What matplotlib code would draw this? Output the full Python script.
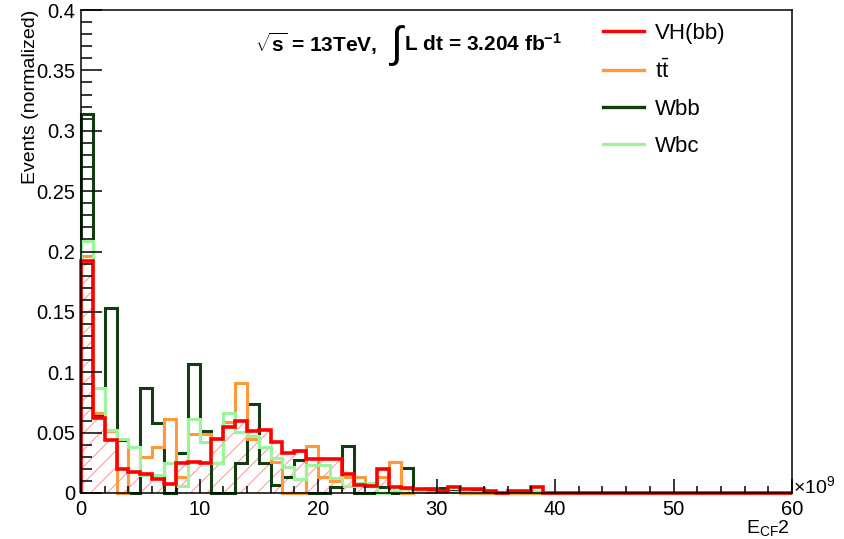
import numpy as np
import matplotlib
matplotlib.use("Agg")
import matplotlib.pyplot as plt
from matplotlib.lines import Line2D
from matplotlib.ticker import MultipleLocator, FuncFormatter

plt.rcParams['font.family'] = ['Liberation Sans', 'DejaVu Sans']
plt.rcParams['mathtext.fontset'] = 'custom'
plt.rcParams['mathtext.rm'] = 'Liberation Sans'
plt.rcParams['mathtext.it'] = 'Liberation Sans:italic'
plt.rcParams['mathtext.bf'] = 'Liberation Sans:bold'
plt.rcParams['hatch.linewidth'] = 0.8

# bin edges in units of 1e9, bins of width 1 from 0 to 60
edges = np.arange(0, 61, 1)

# normalized events per bin (bins 0..39, the rest empty)
vh = [0.192, 0.062, 0.044, 0.020, 0.017, 0.016, 0.012, 0.0074, 0.025, 0.026,
      0.025, 0.045, 0.055, 0.0595, 0.051, 0.052, 0.0425, 0.033, 0.035, 0.0285,
      0.028, 0.028, 0.0156, 0.0066, 0.006, 0.0198, 0.005, 0.004, 0.003, 0.0037,
      0.0013, 0.0046, 0.003, 0.0037, 0.002, 0.0, 0.0013, 0.0013, 0.0046, 0.0]
ttbar = [0.196, 0.066, 0.051, 0.0, 0.038, 0.030, 0.038, 0.061, 0.013, 0.049,
         0.049, 0.0245, 0.059, 0.0915, 0.045, 0.038, 0.026, 0.0, 0.0, 0.039,
         0.0135, 0.010, 0.0135, 0.0135, 0.006, 0.0135, 0.0256, 0.0, 0.002, 0.001,
         0.001, 0.001, 0.0, 0.0, 0.0, 0.0, 0.0, 0.0, 0.0, 0.0]
wbb = [0.314, 0.064, 0.153, 0.044, 0.0, 0.087, 0.058, 0.0, 0.033, 0.107,
       0.051, 0.0, 0.0, 0.025, 0.0733, 0.0245, 0.007, 0.0135, 0.027, 0.0,
       0.0, 0.005, 0.039, 0.0, 0.0, 0.005, 0.0, 0.021, 0.002, 0.002,
       0.004, 0.002, 0.0, 0.002, 0.0, 0.0, 0.0, 0.0, 0.0, 0.0]
wbc = [0.209, 0.087, 0.052, 0.045, 0.038, 0.015, 0.015, 0.025, 0.006, 0.061,
       0.042, 0.025, 0.066, 0.0506, 0.047, 0.038, 0.029, 0.0217, 0.012, 0.023,
       0.0235, 0.0125, 0.006, 0.008, 0.008, 0.0, 0.002, 0.003, 0.002, 0.004,
       0.002, 0.001, 0.001, 0.001, 0.001, 0.001, 0.001, 0.002, 0.002, 0.0]

labels = ['VH(bb)', r'$\mathrm{t\bar{t}}$', 'Wbb', 'Wbc']
colors = ['#ff0000', '#ff9a3c', '#123d12', '#9cf59c']


def full(vals):
    return np.array(vals + [0.0] * (len(edges) - 1 - len(vals)))


fig = plt.figure(figsize=(8.44, 5.39), dpi=100)
ax = fig.add_axes([81 / 844, 46 / 539, 711 / 844, 483 / 539])

# hatched fill for the signal
ax.stairs(full(vh), edges, baseline=0, fill=True, facecolor='none',
          edgecolor='#ff9e9e', hatch='//', linewidth=0)

ax.stairs(full(wbb), edges, baseline=0, color=colors[2], lw=2.2, clip_on=False)
ax.stairs(full(ttbar), edges, baseline=0, color=colors[1], lw=2.2, clip_on=False)
ax.stairs(full(wbc), edges, baseline=0, color=colors[3], lw=2.2, clip_on=False)
ax.stairs(full(vh), edges, baseline=0, color=colors[0], lw=2.6, clip_on=False)

ax.set_xlim(0, 60)
ax.set_ylim(0, 0.4)

ax.xaxis.set_major_locator(MultipleLocator(10))
ax.xaxis.set_minor_locator(MultipleLocator(2))
ax.yaxis.set_major_locator(MultipleLocator(0.05))
ax.yaxis.set_minor_locator(MultipleLocator(0.01))
ax.yaxis.set_major_formatter(FuncFormatter(lambda v, p: '%g' % round(v, 3)))
ax.tick_params(which='both', direction='in', top=False, right=False,
               labelsize=14.5, width=1.1, colors='black')
ax.tick_params(axis='y', which='major', length=15, pad=4)
ax.tick_params(axis='y', which='minor', length=8)
ax.tick_params(axis='x', which='major', length=10, pad=5)
ax.tick_params(axis='x', which='minor', length=5)
for sp in ax.spines.values():
    sp.set_linewidth(1.1)

ax.set_ylabel('Events (normalized)', fontsize=14, loc='top', labelpad=-2)
fig.text(790 / 844, 1 - 528 / 539, r'E$_{\mathrm{CF}}$2', fontsize=14,
         ha='right', va='center')
fig.text(793 / 844, 1 - 486 / 539, r'$\times$10$^{9}$', fontsize=14,
         ha='left', va='center')

# luminosity label
fig.text(255 / 844, 1 - 44 / 539, r'$\sqrt{\mathbf{s}}$ = 13TeV,',
         fontsize=15, fontweight='bold', ha='left', va='center')
fig.text(388 / 844, 1 - 46 / 539, r'$\int$', fontsize=31, ha='left', va='center')
fig.text(404 / 844, 1 - 44 / 539, r'L dt = 3.204 fb$^{\mathbf{-1}}$',
         fontsize=15, fontweight='bold', ha='left', va='center')

handles = [Line2D([], [], color=c, lw=2.4) for c in colors]
ax.legend(handles, labels, loc='upper left', frameon=False, fontsize=16,
          bbox_to_anchor=(603 / 844, 1 - 23 / 539), bbox_transform=fig.transFigure,
          borderpad=0, borderaxespad=0, handlelength=1.85, handletextpad=0.5,
          labelspacing=0.72)

fig.savefig('out.png', dpi=100, facecolor='white')
